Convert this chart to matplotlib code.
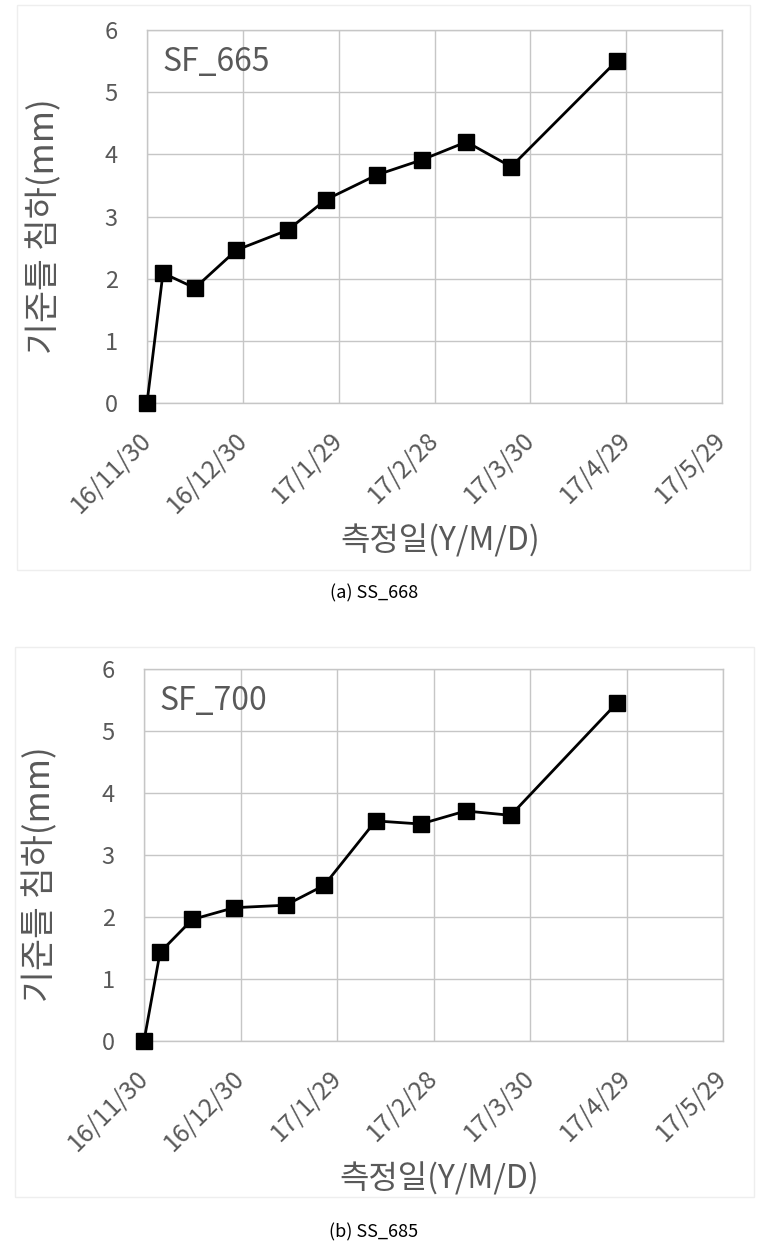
import datetime as dt
import matplotlib
matplotlib.use("Agg")
import matplotlib.pyplot as plt
from matplotlib.patches import Rectangle

plt.rcParams['font.family'] = ['Noto Sans CJK KR', 'DejaVu Sans']

# 측정일 (두 측점 모두 같은 날짜에 측정)
dates = [dt.date(2016, 11, 30), dt.date(2016, 12, 5), dt.date(2016, 12, 15),
         dt.date(2016, 12, 28), dt.date(2017, 1, 13), dt.date(2017, 1, 25),
         dt.date(2017, 2, 10), dt.date(2017, 2, 24), dt.date(2017, 3, 10),
         dt.date(2017, 3, 24), dt.date(2017, 4, 26)]

# 기준틀 침하량 (mm)
sf665 = [0.0, 2.09, 1.85, 2.46, 2.78, 3.27, 3.67, 3.91, 4.20, 3.80, 5.50]
sf700 = [0.0, 1.43, 1.96, 2.15, 2.19, 2.51, 3.55, 3.50, 3.71, 3.64, 5.45]

tick_dates = [dt.date(2016, 11, 30), dt.date(2016, 12, 30), dt.date(2017, 1, 29),
              dt.date(2017, 2, 28), dt.date(2017, 3, 30), dt.date(2017, 4, 29),
              dt.date(2017, 5, 29)]
tick_labels = ['16/11/30', '16/12/30', '17/1/29', '17/2/28', '17/3/30', '17/4/29', '17/5/29']
yticks = [0, 1, 2, 3, 4, 5, 6]

names = ['SF_665', 'SF_700']
captions = ['(a) SS_668', '(b) SS_685']

gray = '#595959'
grid = '#c6c6c6'

fig = plt.figure(figsize=(7.68, 12.55), dpi=100)
W, H = 768.0, 1255.0

# 축 위치 (픽셀 -> 비율)
boxes = [(147, 30, 722, 403), (144, 669, 723, 1041)]
frames = [(17, 5, 750, 570), (15, 647, 754, 1197)]
ylab_y = [0.473, 0.449]
cap_y = [593, 1232]

for i, series in enumerate([sf665, sf700]):
    l, t, r, b = boxes[i]
    fl, ft, fr, fb = frames[i]
    fig.patches.append(Rectangle((fl / W, 1 - fb / H), (fr - fl) / W, (fb - ft) / H,
                                 transform=fig.transFigure, fill=False,
                                 edgecolor='#eeeeee', linewidth=1, zorder=0))
    ax = fig.add_axes([l / W, 1 - b / H, (r - l) / W, (b - t) / H])
    ax.plot(dates, series, color='black', linewidth=2, marker='s', markersize=12,
            clip_on=False, zorder=3)
    ax.set_xlim(tick_dates[0], tick_dates[-1])
    ax.set_ylim(0, 6)
    ax.set_yticks(yticks)
    ax.set_xticks(tick_dates)
    ax.set_xticklabels(tick_labels, rotation=45, ha='right', rotation_mode='anchor',
                       va='center')
    ax.grid(True, color=grid, linewidth=1)
    ax.set_axisbelow(True)
    for s in ax.spines.values():
        s.set_color(grid)
        s.set_linewidth(1)
    ax.tick_params(axis='y', length=0, pad=21, labelsize=17, labelcolor=gray)
    ax.tick_params(axis='x', length=0, pad=24, labelsize=18, labelcolor=gray)

    ax.set_ylabel('기준틀 침하(mm)', fontsize=25, color=gray, va='center')
    ax.yaxis.set_label_coords(-0.178, ylab_y[i])
    ax.set_xlabel('측정일(Y/M/D)', fontsize=23, color=gray, va='center')
    ax.xaxis.set_label_coords(0.51, -0.37)

    ax.text(0.027, 0.915, names[i], transform=ax.transAxes, fontsize=23,
            color=gray, ha='left', va='center')

    fig.text(374 / W, 1 - cap_y[i] / H, captions[i], ha='center', va='center',
             fontsize=13, color='black')

fig.savefig('out.png', dpi=100)
